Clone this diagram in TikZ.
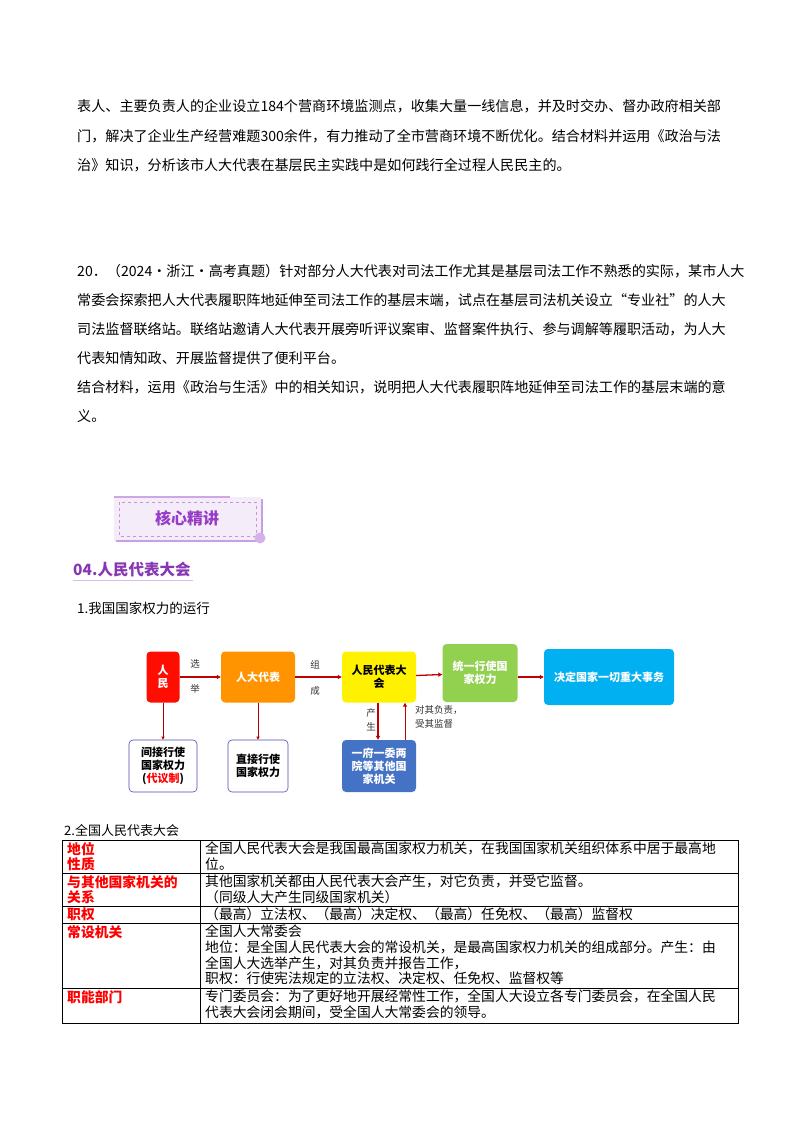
\documentclass[tikz,border=0pt]{standalone}
\usepackage{fontspec}
\setmainfont{Noto Sans CJK SC}
\usetikzlibrary{arrows.meta}
\definecolor{pur}{RGB}{150,60,200}
\begin{document}
\begin{tikzpicture}[x=1pt,y=-1pt,
  body/.style={anchor=west,inner sep=0,font=\fontsize{14.1}{16}\selectfont},
  box/.style={rounded corners=4pt,inner sep=1pt,align=center,font=\fontsize{11}{13}\selectfont\bfseries,text=white},
  wbox/.style={box,draw=gray!60!blue,fill=white,text=black,line width=0.6pt},
  arr/.style={draw=red!75!black,line width=1.3pt,-{Triangle[length=4pt,width=4pt]}},
  thin/.style={draw=red!70!black,line width=0.6pt,-{Triangle[length=3pt,width=3pt]}},
  lab/.style={inner sep=0,font=\fontsize{9.5}{11}\selectfont,text=black!80},
  cellh/.style={anchor=north west,inner sep=0,align=left,text=red,font=\fontsize{13.8}{15.6}\selectfont\bfseries},
  cellb/.style={anchor=north west,inner sep=0,align=left,font=\fontsize{13.8}{15.6}\selectfont}]
\useasboundingbox (0,0) rectangle (800,1132);
\fill[white] (0,0) rectangle (800,1132);
% paragraph 1
\node[body] (p1) at (77,106) {表人、主要负责人的企业设立184个营商环境监测点，收集大量一线信息，并及时交办、督办政府相关部};
\node[body] (p2) at (77,136) {门，解决了企业生产经营难题300余件，有力推动了全市营商环境不断优化。结合材料并运用《政治与法};
\node[body] (p3) at (77,165) {治》知识，分析该市人大代表在基层民主实践中是如何践行全过程人民民主的。};
% paragraph 2
\node[body] (q1) at (77,271) {20．（2024·浙江·高考真题）针对部分人大代表对司法工作尤其是基层司法工作不熟悉的实际，某市人大};
\node[body] (q2) at (77,300) {常委会探索把人大代表履职阵地延伸至司法工作的基层末端，试点在基层司法机关设立“专业社”的人大};
\node[body] (q3) at (77,329) {司法监督联络站。联络站邀请人大代表开展旁听评议案审、监督案件执行、参与调解等履职活动，为人大};
\node[body] (q4) at (77,358) {代表知情知政、开展监督提供了便利平台。};
\node[body] (q5) at (77,387) {结合材料，运用《政治与生活》中的相关知识，说明把人大代表履职阵地延伸至司法工作的基层末端的意};
\node[body] (q6) at (77,416) {义。};
% banner
\fill[pur!10] (114,497) rectangle (261,541);
\draw[pur!45,line width=1.2pt] (114,497) -- (230,497);
\draw[pur!50,line width=2.2pt] (116,541) -- (262,541) -- (262,499);
\draw[pur!55,dashed,line width=0.5pt] (119,502) rectangle (256,536);
\fill[pur!40] (260,538) circle (5.5);
\node[inner sep=0,text=pur,font=\fontsize{16}{18}\selectfont\bfseries] (ban) at (187,518) {核心精讲};
% heading
\node[anchor=west,inner sep=0,text=pur!90!black,font=\fontsize{15.5}{18}\selectfont\bfseries] (h) at (73,570) {04.人民代表大会};
\draw[pur!35,line width=0.8pt] (73,580) -- (193,580);
\node[anchor=west,inner sep=0,font=\fontsize{13.5}{16}\selectfont] (h1) at (77,608) {1.我国国家权力的运行};
% diagram
\node[box,fill=red!90!orange,minimum width=33pt,minimum height=51pt] (rm) at (163,677) {人\\民};
\node[box,fill=orange!85!yellow,minimum width=74pt,minimum height=51pt] (rd) at (258,677) {人大代表};
\node[box,fill=yellow,text=black,minimum width=74pt,minimum height=51pt] (rdh) at (379,677) {人民代表大\\会};
\node[box,minimum width=75pt,minimum height=58pt,fill={rgb,255:red,146;green,208;blue,80}] (ty) at (480,673) {统一行使国\\家权力};
\node[box,fill={rgb,255:red,0;green,176;blue,240},minimum width=130pt,minimum height=56pt] (jd) at (609,677) {决定国家一切重大事务};
\node[wbox,minimum width=68pt,minimum height=52pt] (jj) at (163,766) {间接行使\\国家权力\\(\textcolor{red}{代议制})};
\node[wbox,minimum width=60pt,minimum height=52pt] (zj) at (258,766) {直接行使\\国家权力};
\node[box,minimum width=74pt,minimum height=52pt,fill={rgb,255:red,68;green,114;blue,196}] (yf) at (379,766) {一府一委两\\院等其他国\\家机关};
\draw[arr] (rm) -- (rd);
\draw[arr] (rd) -- (rdh);
\draw[arr] (rdh) -- (ty);
\draw[arr] (ty.east|-jd) -- (jd);
\draw[thin] (rm) -- (jj);
\draw[thin] (rd) -- (zj);
\draw[arr] ([xshift=-1pt]rdh.south) -- ([xshift=-1pt]yf.north);
\draw[arr,line width=1pt] ([xshift=26pt]yf.north) -- ([xshift=26pt]rdh.south);
\node[lab] (l1) at (195,664) {选};
\node[lab] (l2) at (195,689) {举};
\node[lab] (l3) at (315,665) {组};
\node[lab] (l4) at (315,691) {成};
\node[lab] (l5) at (371,713) {产};
\node[lab] (l6) at (371,727) {生};
\node[lab,anchor=west,align=left,font=\fontsize{9.5}{13.5}\selectfont] (l7) at (415,717) {对其负责，\\受其监督};
% table
\node[anchor=west,inner sep=0,font=\fontsize{13}{15}\selectfont] (t0) at (64,831) {2.全国人民代表大会};
\draw[line width=0.7pt] (62,840) rectangle (738,1023);
\foreach \yy in {873,906,923,988} \draw[line width=0.7pt] (62,\yy) -- (738,\yy);
\draw[line width=0.7pt] (200,840) -- (200,1023);
\node[cellh] (a1) at (67,842) {地位\\性质};
\node[cellb] (b1) at (205,842) {全国人民代表大会是我国最高国家权力机关，在我国国家机关组织体系中居于最高地\\位。};
\node[cellh] (a2) at (67,875) {与其他国家机关的\\关系};
\node[cellb] (b2) at (205,875) {其他国家机关都由人民代表大会产生，对它负责，并受它监督。\\（同级人大产生同级国家机关）};
\node[cellh] (a3) at (67,907.5) {职权};
\node[cellb] (b3) at (205,907.5) {（最高）立法权、（最高）决定权、（最高）任免权、（最高）监督权};
\node[cellh] (a4) at (67,925) {常设机关};
\node[cellb] (b4) at (205,925) {全国人大常委会\\地位：是全国人民代表大会的常设机关，是最高国家权力机关的组成部分。产生：由\\全国人大选举产生，对其负责并报告工作，\\职权：行使宪法规定的立法权、决定权、任免权、监督权等};
\node[cellh] (a5) at (67,990) {职能部门};
\node[cellb] (b5) at (205,990) {专门委员会：为了更好地开展经常性工作，全国人大设立各专门委员会，在全国人民\\代表大会闭会期间，受全国人大常委会的领导。};
\end{tikzpicture}
\end{document}
